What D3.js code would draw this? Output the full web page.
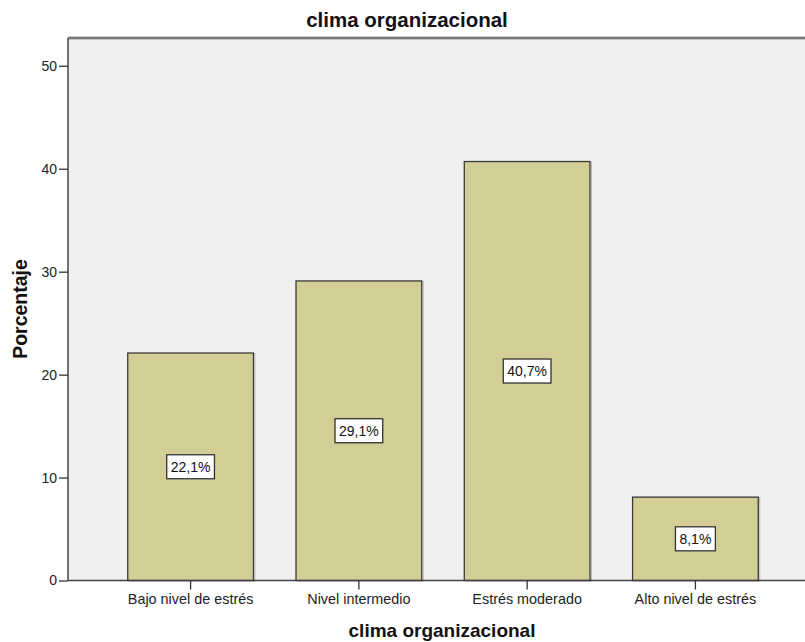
<!DOCTYPE html>
<html>
<head>
<meta charset="utf-8">
<script src="https://cdn.jsdelivr.net/npm/d3@7"></script>
<style>
  html, body { margin: 0; padding: 0; background: #ffffff; }
  svg { display: block; font-family: "Liberation Sans", Arial, sans-serif; }
</style>
</head>
<body>
<svg id="chart" width="805" height="642"></svg>
<script>
const categories = ["Bajo nivel de estrés", "Nivel intermedio", "Estrés moderado", "Alto nivel de estrés"];
const values = [22.1, 29.1, 40.7, 8.1];
const valueLabels = ["22,1%", "29,1%", "40,7%", "8,1%"];
const yTicks = [0, 10, 20, 30, 40, 50];
const chartTitle = "clima organizacional";
const xTitle = "clima organizacional";
const yTitle = "Porcentaje";

(function () {
const svg = d3.select("#chart");
const pLeft = 68, pRight = 818, pTop = 38, pBottom = 580.5;

const x = d3.scaleBand().domain(categories).range([pLeft, pRight])
  .paddingInner(0.253).paddingOuter(0.355);
const y = d3.scaleLinear().domain([0, 52.7]).range([pBottom, pTop]);

// plot background
svg.append("rect").attr("x", pLeft).attr("y", pTop)
  .attr("width", 805 - pLeft).attr("height", pBottom - pTop)
  .attr("fill", "#f0f0f0");

// top frame line
svg.append("line").attr("x1", pLeft).attr("x2", 805).attr("y1", pTop).attr("y2", pTop)
  .attr("stroke", "#9a9a9a").attr("stroke-width", 3);
svg.append("line").attr("x1", pLeft).attr("x2", 805).attr("y1", pTop).attr("y2", pTop)
  .attr("stroke", "#555").attr("stroke-width", 1.2);

// bars
const bars = svg.append("g");
categories.forEach((c, i) => {
  const bx = x(c), bw = x.bandwidth(), by = y(values[i]);
  bars.append("rect").attr("x", bx + 1.5).attr("y", by + 0.5)
    .attr("width", bw).attr("height", pBottom - by)
    .attr("fill", "none").attr("stroke", "#b8b8b8").attr("stroke-width", 1);
  bars.append("rect").attr("x", bx).attr("y", by)
    .attr("width", bw).attr("height", pBottom - by)
    .attr("fill", "#d3cd96").attr("stroke", "#3a3a3a").attr("stroke-width", 1.3);
});

// value labels
categories.forEach((c, i) => {
  const cx = x(c) + x.bandwidth() / 2;
  const cy = y(values[i] / 2);
  const t = svg.append("text").attr("x", cx).attr("y", cy + 5)
    .attr("text-anchor", "middle").attr("font-size", 14).attr("fill", "#111")
    .text(valueLabels[i]);
  const w = t.node().getComputedTextLength();
  svg.insert("rect", () => t.node())
    .attr("x", cx - w / 2 - 4).attr("y", cy - 12)
    .attr("width", w + 8).attr("height", 24)
    .attr("fill", "#ffffff").attr("stroke", "#333").attr("stroke-width", 1.3);
});

// y axis
const yAxis = svg.append("g").attr("transform", `translate(${pLeft},0)`)
  .call(d3.axisLeft(y).tickValues(yTicks).tickSize(9).tickPadding(2));
yAxis.select(".domain").attr("stroke", "#444").attr("stroke-width", 1.5)
  .attr("d", `M0,${pTop}V${pBottom}`);
yAxis.selectAll(".tick line").attr("stroke", "#333").attr("stroke-width", 1.3);
yAxis.selectAll(".tick text").attr("font-size", 14).attr("fill", "#222")
  .attr("font-family", "Liberation Sans, Arial, sans-serif");

// x axis
const xAxis = svg.append("g").attr("transform", `translate(0,${pBottom})`)
  .call(d3.axisBottom(x).tickSize(9).tickPadding(4));
xAxis.select(".domain").attr("stroke", "#444").attr("stroke-width", 1.5)
  .attr("d", `M${pLeft},0H805`);
xAxis.selectAll(".tick line").attr("stroke", "#333").attr("stroke-width", 1.3);
xAxis.selectAll(".tick text").attr("font-size", 14.4).attr("fill", "#222")
  .attr("font-family", "Liberation Sans, Arial, sans-serif");

// titles
svg.append("text").attr("x", 407).attr("y", 27.3).attr("text-anchor", "middle")
  .attr("font-size", 20.5).attr("font-weight", "bold").attr("fill", "#111")
  .text(chartTitle);
svg.append("text").attr("x", 442).attr("y", 636.5).attr("text-anchor", "middle")
  .attr("font-size", 19).attr("font-weight", "bold").attr("fill", "#111")
  .text(xTitle);
svg.append("text").attr("transform", "translate(27,309) rotate(-90)")
  .attr("text-anchor", "middle")
  .attr("font-size", 19.5).attr("font-weight", "bold").attr("fill", "#111")
  .text(yTitle);
})();
</script>
</body>
</html>
